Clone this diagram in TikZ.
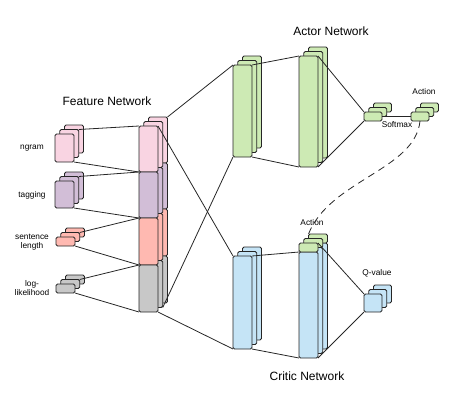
\documentclass[tikz,border=0pt]{standalone}
\usepackage{fontspec}
\setmainfont{Liberation Sans}
\definecolor{cpink}{HTML}{F9D4E2}
\definecolor{cpurple}{HTML}{D2BED7}
\definecolor{csalmon}{HTML}{FFB9B1}
\definecolor{cgray}{HTML}{C8C8C8}
\definecolor{cgreen}{HTML}{CDEAB4}
\definecolor{cblue}{HTML}{C5E4F6}
\tikzset{
 lay/.style={draw=black!85, line width=0.8pt, rounded corners=1.5pt, inner sep=0pt, outer sep=0pt, anchor=north west},
 conn/.style={draw=black!85, line width=0.8pt},
 ttl/.style={font=\fontsize{12}{14}\selectfont},
 lbl/.style={font=\fontsize{8.3}{9.6}\selectfont, align=center},
}
\newcommand\stk[6]{%
 \foreach \k/\s in {3/2,2/1}{\node[lay,fill=#6,minimum width=#4pt,minimum height=#5pt] (#1-\k) at ({#2+4.75*\s},{#3-4.5*\s}) {};}
 \node[lay,fill=#6,minimum width=#4pt,minimum height=#5pt] (#1) at (#2,#3) {};}
\begin{document}
\begin{tikzpicture}[x=1pt,y=-1pt]
\useasboundingbox (0,0) rectangle (457,410);
% titles
\node[ttl] (tfeat) at (107,101) {Feature Network};
\node[ttl] (tact) at (331,31) {Actor Network};
\node[ttl] (tcrit) at (307,376) {Critic Network};
% input labels
\node[lbl] (lng) at (32,148) {ngram};
\node[lbl] (ltg) at (32,195) {tagging};
\node[lbl] (lsl) at (32,242) {sentence\\length};
\node[lbl] (lll) at (32,288) {log-\\likelihood};
% input blocks
\stk{ng}{55}{134}{19}{28}{cpink}
\stk{tg}{55}{181}{19}{27}{cpurple}
\stk{sl}{56}{237}{19}{9}{csalmon}
\stk{ll}{56}{284}{19}{9}{cgray}
% feature column
\foreach \s/\k in {2/3,1/2}{
 \foreach \i/\yy/\hh/\cc in {1/126/46/cpink,2/172/46/cpurple,3/218/47/csalmon,4/265/47/cgray}{
  \node[lay,fill=\cc,minimum width=19pt,minimum height=\hh pt] (f\i-\k) at ({139+4.75*\s},{\yy-4.5*\s}) {};}}
\foreach \i/\yy/\hh/\cc in {1/126/46/cpink,2/172/46/cpurple,3/218/47/csalmon,4/265/47/cgray}{
  \node[lay,fill=\cc,minimum width=19pt,minimum height=\hh pt] (f\i) at (139,\yy) {};}
% input connectors
\draw[conn] (ng-2.north east) -- (f1.north west);
\draw[conn] (ng.south east) -- (f1.south west);
\draw[conn] (tg-2.north east) -- (f2.north west);
\draw[conn] (tg.south east) -- (f2.south west);
\draw[conn] (sl-2.north east) -- (f3.north west);
\draw[conn] (sl.south east) -- (f3.south west);
\draw[conn] (ll-2.north east) -- (f4.north west);
\draw[conn] (ll.south east) -- (f4.south west);
% actor network
\stk{a1}{233}{65}{19}{92}{cgreen}
\stk{a2}{299}{56}{19}{111}{cgreen}
\stk{sm}{364}{112}{18}{9}{cgreen}
\stk{act}{411}{112}{18}{9}{cgreen}
\node[lbl] (lsm) at (397,124.5) {Softmax};
\node[lbl] (lact) at (424,92) {Action};
% critic network
\stk{c1}{233}{256}{19}{93}{cblue}
\foreach \s/\k in {2/3,1/2}{
 \node[lay,fill=cblue,minimum width=19pt,minimum height=106pt] (c2b-\k) at ({299+4.75*\s},{252-4.5*\s}) {};
 \node[lay,fill=cgreen,minimum width=19pt,minimum height=9pt] (c2g-\k) at ({299+4.75*\s},{243-4.5*\s}) {};}
\node[lay,fill=cblue,minimum width=19pt,minimum height=106pt] (c2b) at (299,252) {};
\node[lay,fill=cgreen,minimum width=19pt,minimum height=9pt] (c2g) at (299,243) {};
\stk{qv}{364}{294}{18}{18}{cblue}
\node[lbl] (lca) at (312,223) {Action};
\node[lbl] (lqv) at (377,273) {Q-value};
% feature to actor/critic
\draw[conn] (f1-3.north east) -- (a1.north west);
\draw[conn] (f1.north east) -- (c1.north west);
\draw[conn] (f4-2.south east) -- (a1.south west);
\draw[conn] (f4.south east) -- (c1.south west);
% actor connectors
\draw[conn] (a1.north east) -- (a2.north west);
\draw[conn] (a1.south east) -- (a2.south west);
\draw[conn] (a2.north east) -- (sm.north west);
\draw[conn] (a2.south east) -- (sm.south west);
\draw[conn] (sm.east) -- (act.west);
% critic connectors
\draw[conn] (c1.north east) -- (c2b.north west);
\draw[conn] (c1.south east) -- (c2b.south west);
\draw[conn] (c2g.north east) -- (qv.north west);
\draw[conn] (c2b.south east) -- (qv.south west);
% dashed action link
\draw[conn, dash pattern=on 7pt off 5pt] (act.south) .. controls (415,170) and (330,180) .. (c2g-3.north west);
\end{tikzpicture}
\end{document}
